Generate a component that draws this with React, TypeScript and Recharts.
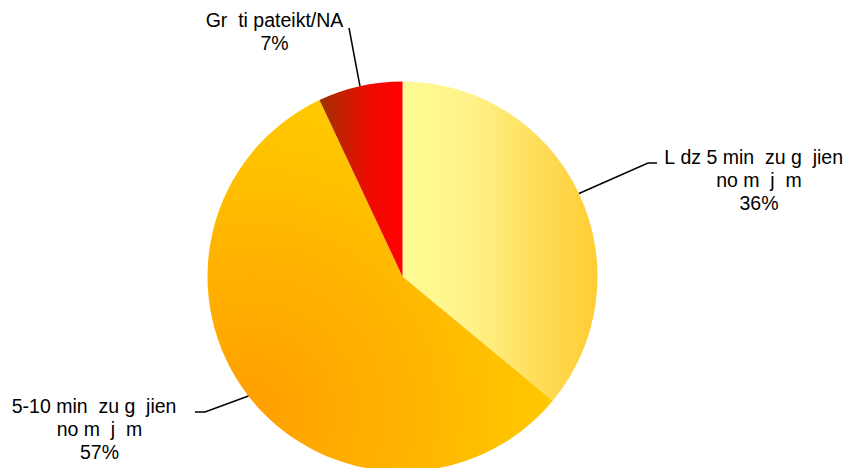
import { PieChart, Pie, Cell } from 'recharts';

// Latvian glyphs that the source font did not have are shown as blanks
const NB = '\u00A0';

const labelLines = [
    [`L${NB}dz 5 min ${NB}zu g${NB}${NB}jien`, `no m${NB}${NB}j${NB}${NB}m`],
    [`5-10 min ${NB}zu g${NB}${NB}jien`, `no m${NB}${NB}j${NB}${NB}m`],
    [`Gr${NB}${NB}ti pateikt/NA`],
];
const shares = [36, 57, 7];
const fills = ['url(#gradYellow)', 'url(#gradOrange)', 'url(#gradRed)'];

const data = labelLines.map((lines, i) => ({ name: lines.join(' '), lines, value: shares[i] }));

// leader line elbows / text anchors, relative to the pie centre
// firstDx: first line sits a bit left (its last glyph was a blank in the source)
const LABEL_LAYOUT = [
    { ex: 245.5, ey: -113.5, tail: 9, tx: 356.5, ty: -112.5, firstDx: -5.4 },
    { ex: -197.5, ey: 135.5, tail: -10, tx: -303, ty: 136.5, firstDx: -5.4 },
    { ex: -53.5, ey: -248.5, tail: 0, tx: -128, ty: -249.5, firstDx: 0 },
];

const RADIAN = Math.PI / 180;
const FONT = '"Liberation Sans", Arial, sans-serif';
const LINE_H = 23;

function renderLabel(props: any) {
    const { cx, cy, midAngle, outerRadius, index, payload, percent } = props;
    const lay = LABEL_LAYOUT[index];
    const sx = cx + outerRadius * Math.cos(-midAngle * RADIAN);
    const sy = cy + outerRadius * Math.sin(-midAngle * RADIAN);
    const ex = cx + lay.ex;
    const ey = cy + lay.ey;
    const lines: string[] = [...(payload.lines || []), `${Math.round(percent * 100)}%`];
    return (
        <g>
            <polyline
                points={`${sx},${sy} ${ex},${ey} ${ex + lay.tail},${ey}`}
                fill="none"
                stroke="#000"
                strokeWidth={1.5}
            />
            <text
                x={cx + lay.tx}
                y={cy + lay.ty}
                textAnchor="middle"
                fill="#000"
                fontFamily={FONT}
                fontSize={19.5}
            >
                {lines.map((l, i) => (
                    <tspan key={i} x={cx + lay.tx + (i === 0 ? lay.firstDx : 0)} dy={i === 0 ? 0 : LINE_H}>
                        {l}
                    </tspan>
                ))}
            </text>
        </g>
    );
}

export default function App() {
    return (
        <div style={{ position: 'absolute', left: 0, top: 0, width: 850, height: 468, background: '#fff' }}>
            <PieChart width={850} height={468} margin={{ top: 0, right: 0, bottom: 0, left: 0 }}>
                <defs>
                    <linearGradient id="gradYellow" gradientUnits="userSpaceOnUse" x1={402} y1={0} x2={597} y2={0}>
                        <stop offset="0" stopColor="#FFFB95" />
                        <stop offset="0.35" stopColor="#FFF38A" />
                        <stop offset="0.75" stopColor="#FFDA52" />
                        <stop offset="1" stopColor="#FFCC33" />
                    </linearGradient>
                    <radialGradient id="gradOrange" gradientUnits="userSpaceOnUse" cx={250} cy={410} r={330}>
                        <stop offset="0" stopColor="#FF9E00" />
                        <stop offset="1" stopColor="#FFCC00" />
                    </radialGradient>
                    <linearGradient id="gradRed" gradientUnits="userSpaceOnUse" x1={318} y1={0} x2={402} y2={0}>
                        <stop offset="0" stopColor="#9C3300" />
                        <stop offset="0.6" stopColor="#EE0C00" />
                        <stop offset="1" stopColor="#FF0000" />
                    </linearGradient>
                </defs>
                <Pie
                    data={data}
                    dataKey="value"
                    cx={402.5}
                    cy={276.5}
                    outerRadius={195}
                    startAngle={90}
                    endAngle={-270}
                    stroke="none"
                    label={renderLabel}
                    labelLine={false}
                    isAnimationActive={false}
                >
                    {data.map((_, i) => (
                        <Cell key={`cell-${i}`} fill={fills[i]} />
                    ))}
                </Pie>
            </PieChart>
        </div>
    );
}
